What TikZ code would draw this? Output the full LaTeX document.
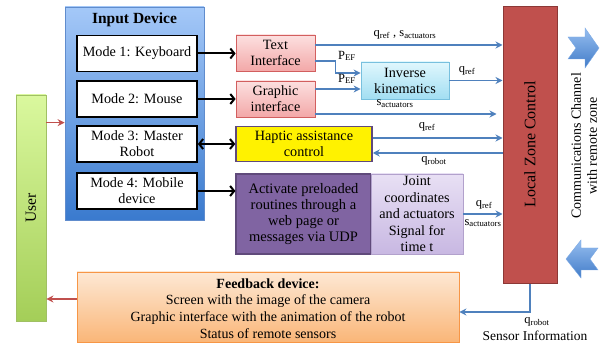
\documentclass[tikz,border=0pt]{standalone}
\usepackage{fontspec}
\setmainfont{Liberation Serif}
\usetikzlibrary{arrows.meta,calc}

\definecolor{idtop}{RGB}{164,200,248}
\definecolor{idbot}{RGB}{58,122,206}
\definecolor{idline}{RGB}{96,140,205}
\definecolor{pinktop}{RGB}{252,224,224}
\definecolor{pinkbot}{RGB}{243,168,168}
\definecolor{pinkline}{RGB}{210,95,95}
\definecolor{cyantop}{RGB}{224,247,253}
\definecolor{cyanbot}{RGB}{162,222,242}
\definecolor{cyanline}{RGB}{120,192,222}
\definecolor{hapline}{RGB}{96,74,123}
\definecolor{routfill}{RGB}{128,100,162}
\definecolor{lavtop}{RGB}{232,224,244}
\definecolor{lavbot}{RGB}{200,184,226}
\definecolor{lavline}{RGB}{178,161,204}
\definecolor{lzfill}{RGB}{192,80,77}
\definecolor{lzline}{RGB}{140,56,54}
\definecolor{usertop}{RGB}{218,248,158}
\definecolor{userbot}{RGB}{164,206,88}
\definecolor{userline}{RGB}{160,192,100}
\definecolor{fbtop}{RGB}{253,232,212}
\definecolor{fbbot}{RGB}{250,182,120}
\definecolor{fbline}{RGB}{247,150,70}
\definecolor{flow}{RGB}{79,129,189}
\definecolor{back}{RGB}{192,80,77}
\definecolor{chtop}{RGB}{150,190,240}
\definecolor{chbot}{RGB}{66,124,200}

\tikzset{
  txt/.style={font=\fontsize{14.2}{16}\selectfont, align=center, inner sep=1pt},
  lbl/.style={font=\fontsize{12.5}{14}\selectfont, inner sep=0.5pt},
  modebox/.style={txt, draw=black, line width=1.7pt, fill=white,
    minimum width=120pt, minimum height=36pt},
  pinkbox/.style={txt, draw=pinkline, line width=0.8pt, top color=pinktop,
    bottom color=pinkbot, minimum width=79pt, minimum height=36pt},
  blk/.style={line width=2pt, draw=black, -{Straight Barb[length=4pt,width=10pt]}},
  blkboth/.style={line width=2pt, draw=black,
    {Straight Barb[length=4pt,width=10pt]}-{Straight Barb[length=4pt,width=10pt]}},
  flowarrow/.style={line width=1.6pt, draw=flow, -{Stealth[length=7pt,width=7pt]}},
  backarrow/.style={line width=1.6pt, draw=back, -{Stealth[length=7pt,width=7pt]}},
}

\begin{document}
\begin{tikzpicture}[x=1pt, y=-1pt]
\useasboundingbox (0,0) rectangle (605,347);

% ---- user and input device ----
\node[txt, draw=userline, line width=0.8pt, top color=usertop, bottom color=userbot,
      minimum width=30pt, minimum height=226pt] (user) at (31,208) {};
\node[txt, font=\fontsize{15.5}{17}\selectfont, rotate=90] (userlbl) at (31,208) {User};

\node[draw=idline, line width=0.8pt, top color=idtop, bottom color=idbot,
      minimum width=139pt, minimum height=213pt] (indev) at (134.5,113.5) {};
\node[font=\fontsize{15.5}{17}\selectfont\bfseries, inner sep=0pt] (indevlbl) at (134.5,20) {Input Device};

\node[modebox] (m1) at (137,53.5) {Mode 1: Keyboard};
\node[modebox] (m2) at (137,99)   {Mode 2: Mouse};
\node[modebox] (m3) at (137,144)  {Mode 3: Master\\Robot};
\node[modebox] (m4) at (137,191)  {Mode 4: Mobile\\device};

% ---- interfaces ----
\node[pinkbox] (ti) at (275.5,53) {Text\\Interface};
\node[pinkbox] (gi) at (275.5,99) {Graphic\\interface};
\node[txt, draw=cyanline, line width=0.8pt, top color=cyantop, bottom color=cyanbot,
      minimum width=88pt, minimum height=37pt] (ik) at (405,80.5) {Inverse\\kinematics};
\node[txt, draw=hapline, line width=1.5pt, fill=yellow,
      minimum width=136pt, minimum height=35pt] (hap) at (304,144) {Haptic assistance\\control};
\node[txt, draw=hapline, line width=1.2pt, fill=routfill,
      minimum width=135pt, minimum height=80pt, font=\fontsize{14.5}{16}\selectfont]
      (rout) at (303.5,214) {Activate preloaded\\routines through a\\web page or\\messages via UDP};
\node[txt, draw=lavline, line width=0.8pt, top color=lavtop, bottom color=lavbot,
      minimum width=92pt, minimum height=80pt, font=\fontsize{14.2}{16.4}\selectfont]
      (jc) at (417,214) {Joint\\coordinates\\and actuators\\Signal for\\time t};

% ---- local zone control ----
\node[draw=lzline, line width=1pt, fill=lzfill,
      minimum width=54pt, minimum height=277pt] (lz) at (530,145.5) {};
\node[font=\fontsize{16}{18}\selectfont, rotate=90, inner sep=0pt] (lzlbl) at (530,144) {Local Zone Control};

% ---- feedback ----
\node[draw=fbline, line width=0.8pt, top color=fbtop, bottom color=fbbot,
      minimum width=382pt, minimum height=70pt] (fb) at (268,307) {};
\node[txt, font=\fontsize{14}{16.6}\selectfont] (fbtxt) at (268,308.5)
  {\textbf{Feedback device:}\\Screen with the image of the camera\\Graphic interface with the animation of the robot\\Status of remote sensors};

% ---- communication channel ----
\shade[top color=chtop, bottom color=chbot, draw=chtop!70!chbot, line width=0.4pt]
  (568,37) -- (585,37) -- (585,28) -- (599,48) -- (585,68) -- (585,59) -- (568,59)
  -- (576,48) -- cycle;
\shade[top color=chtop, bottom color=chbot, draw=chtop!70!chbot, line width=0.4pt]
  (598,248) -- (581,248) -- (581,240) -- (566,259) -- (581,278) -- (581,270) -- (598,270)
  -- (590,259) -- cycle;
\node[font=\fontsize{14}{16}\selectfont, rotate=90, align=center, inner sep=0pt] (chan) at (584,146)
  {Communications Channel\\with remote zone};

% ---- black connectors from the input modes ----
\draw[blk] (m1.east) -- (m1.east -| ti.west);
\draw[blk] (m2.east) -- (m2.east -| gi.west);
\draw[blkboth] (m3.east) -- (m3.east -| hap.west);
\draw[blk] (m4.east) -- (m4.east -| rout.west);

% ---- user connections ----
\coordinate (u1) at ($(user.north east)+(0,28)$);
\draw[backarrow] (u1) -- (u1 -| indev.west);
\coordinate (f0) at ($(fb.west)+(0,-8)$);
\draw[backarrow] (f0) -- (f0 -| user.east);

% ---- signal flows ----
\coordinate (a1) at ($(ti.east)+(0,-8)$);
\draw[flowarrow] (a1) -- (a1 -| lz.west);
\node[lbl] (l1) at (405,35) {q\textsubscript{ref} , s\textsubscript{actuators}};

\coordinate (a2) at ($(ti.east)+(0,8)$);
\coordinate (k1) at ($(ik.west)+(0,-7.5)$);
\draw[flowarrow] (a2) -- ++(20,0) |- (k1);
\node[lbl] (l2) at (347,56) {P\textsubscript{EF}};

\coordinate (g1) at ($(gi.east)+(0,-10)$);
\draw[flowarrow] (g1) -- (g1 -| ik.west);
\node[lbl] (l3) at (347,79) {P\textsubscript{EF}};

\draw[flowarrow] (ik.east) -- (ik.east -| lz.west);
\node[lbl] (l4) at (467,71) {q\textsubscript{ref}};

\coordinate (g2) at ($(gi.east)+(0,15)$);
\draw[flowarrow, shorten >=6pt] (g2) -- (g2 -| lz.west);
\node[lbl] (l5) at (395,104) {s\textsubscript{actuators}};

\coordinate (h1) at ($(hap.east)+(0,-6)$);
\draw[flowarrow] (h1) -- (h1 -| lz.west);
\node[lbl] (l6) at (427,127) {q\textsubscript{ref}};

\coordinate (h2) at ($(hap.east)+(0,9)$);
\draw[flowarrow] (h2 -| lz.west) -- (h2);
\node[lbl] (l7) at (434,161) {q\textsubscript{robot}};

\draw[flowarrow] (jc.east) -- (jc.east -| lz.west);
\node[lbl] (l8) at (484,205) {q\textsubscript{ref}};
\node[lbl] (l9) at (483,223) {s\textsubscript{actuators}};

\coordinate (f1) at ($(fb.east)+(0,5)$);
\draw[flowarrow] (lz.south) |- (f1);
\node[lbl] (l10) at (537,322) {q\textsubscript{robot}};
\node[txt, font=\fontsize{13.5}{15}\selectfont] (sens) at (535,336) {Sensor Information};
\end{tikzpicture}
\end{document}
